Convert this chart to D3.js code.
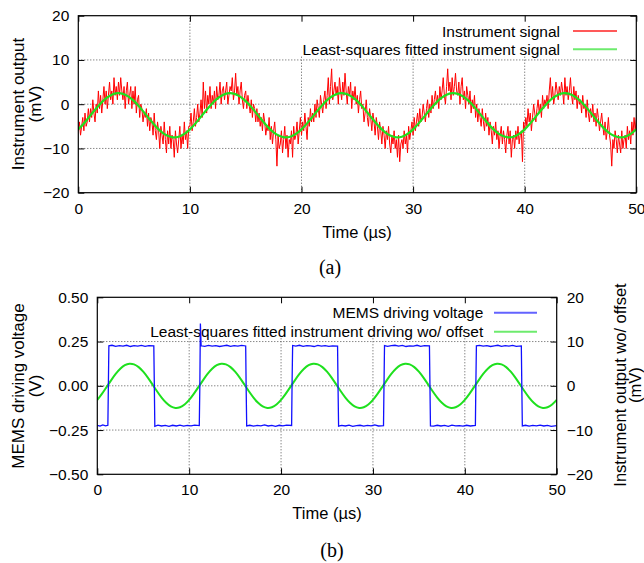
<!DOCTYPE html>
<html lang="en">
<head>
<meta charset="UTF-8" />
<title>Instrument signal</title>
<style>
  body { margin: 0; background: #fff; }
  svg { display: block; font-family: "Liberation Sans", Arial, sans-serif; }
</style>
</head>
<body>
<div id="chart"></div>
<script src="https://cdn.jsdelivr.net/npm/d3@7"></script>
<script>
// tick values
const xTicks = [0, 10, 20, 30, 40, 50];
const yTicksMv = [-20, -10, 0, 10, 20];
const yTicksVolt = [-0.5, -0.25, 0, 0.25, 0.5];

// (a) raw instrument signal, mV, one sample every 0.1 us
const signalStep = 0.1;
const instrumentSignal = [
  -6,-4,-7,-5,-3,-6,-2,-5,-4,-1, -4,-1,-3,1,-2,-4,0,-2,3,-1, 2,-2,1,4,0,3,-1,2,5,1, 3,0,6,2,4,1,5,2,6,3,
  1,4,-1,3,5,0,2,4,-1,3, 0,4,-2,1,2,-3,0,-1,-4,-2, -3,-1,-5,-2,-6,-3,-4,-7,-2,-6, -8,-4,-6,-10,-5,-7,-9,-4,-8,-11,
  -6,-9,-5,-10,-7,-8,-12,-6,-9,-11, -8,-5,-10,-7,-9,-4,-8,-6,-10,-5,
  -5,-2,-6,-4,-1,-5,-3,0,-4,-2, 1,-3,5,-1,3,-2,2,0,4,-1, 2,0,3,-1,4,1,2,5,0,3, 4,1,3,5,0,2,4,3,6,1,
  3,7,2,4,0,3,5,1,-1,2, 3,-1,2,0,-2,1,-3,0,-1,-4, -1,-4,-2,-5,-3,-6,-2,-4,-7,-5, -6,-3,-8,-5,-9,-6,-4,-8,-14,-7,
  -10,-9,-6,-11,-8,-5,-10,-7,-12,-8, -9,-6,-12,-5,-8,-7,-4,-9,-6,-3,
  -7,-4,-6,-2,-5,-8,-3,-5,-1,-4, -2,-4,0,-3,1,-1,-3,2,0,-2, 1,3,-1,2,6,0,4,8,1,3, 5,2,4,0,6,3,1,5,2,7,
  3,0,4,2,5,-1,3,1,4,0, 2,-2,1,3,-1,0,-4,-2,1,-3, -5,-1,-3,-6,-2,-4,-7,-3,-5,-8, -4,-6,-9,-5,-7,-10,-6,-8,-5,-9,
  -11,-7,-9,-6,-10,-8,-12,-7,-13,-9, -8,-10,-6,-9,-7,-11,-5,-8,-6,-4,
  -7,-3,-6,-4,-2,-5,-1,-4,-3,0, -2,-4,-1,1,-3,0,-2,2,-1,1, 3,0,2,-1,4,1,3,6,2,0, 4,8,3,5,1,6,2,4,7,3,
  2,5,0,4,6,1,3,-1,4,2, 0,3,-2,1,-1,2,-3,0,-4,-1, -3,-5,-1,-4,-6,-2,-5,-3,-7,-4, -6,-9,-5,-7,-4,-8,-6,-10,-7,-5,
  -9,-6,-8,-11,-7,-5,-9,-6,-12,-8, -7,-10,-6,-8,-5,-9,-7,-6,-13,-4,
  -6,-3,-5,-1,-4,-2,-6,-3,0,-2, -4,-1,1,-2,0,-3,2,-1,1,0, 2,-1,3,6,1,4,0,2,5,3, 1,4,2,5,3,0,6,2,4,1,
  3,6,2,0,4,1,3,-1,2,0, 1,-2,2,-1,0,-3,1,-2,-4,-1, -3,0,-4,-2,-5,-1,-3,-6,-4,-2, -5,-7,-4,-8,-6,-3,-7,-9,-14,-8,
  -10,-6,-8,-11,-7,-9,-11,-6,-10,-8, -7,-10,-5,-8,-6,-9,-4,-7,-3,-6,
  -3
];

// least-squares fits, one sample every 0.5 us
const fitStep = 0.5;
const fittedSignal = [
  -5.69,-4.34,-2.81,-1.26,0.18,1.35,2.15,2.49,2.34,1.72,0.69,-0.66,-2.19,-3.74,-5.18,-6.35,-7.15,-7.49,-7.34,-6.72,
  -5.69,-4.34,-2.81,-1.26,0.18,1.35,2.15,2.49,2.34,1.72,0.69,-0.66,-2.19,-3.74,-5.18,-6.35,-7.15,-7.49,-7.34,-6.72,
  -5.69,-4.34,-2.81,-1.26,0.18,1.35,2.15,2.49,2.34,1.72,0.69,-0.66,-2.19,-3.74,-5.18,-6.35,-7.15,-7.49,-7.34,-6.72,
  -5.69,-4.34,-2.81,-1.26,0.18,1.35,2.15,2.49,2.34,1.72,0.69,-0.66,-2.19,-3.74,-5.18,-6.35,-7.15,-7.49,-7.34,-6.72,
  -5.69,-4.34,-2.81,-1.26,0.18,1.35,2.15,2.49,2.34,1.72,0.69,-0.66,-2.19,-3.74,-5.18,-6.35,-7.15,-7.49,-7.34,-6.72,
  -5.69
];
const fittedNoOffset = [
  -3.19,-1.84,-0.31,1.24,2.68,3.85,4.65,4.99,4.84,4.22,3.19,1.84,0.31,-1.24,-2.68,-3.85,-4.65,-4.99,-4.84,-4.22,
  -3.19,-1.84,-0.31,1.24,2.68,3.85,4.65,4.99,4.84,4.22,3.19,1.84,0.31,-1.24,-2.68,-3.85,-4.65,-4.99,-4.84,-4.22,
  -3.19,-1.84,-0.31,1.24,2.68,3.85,4.65,4.99,4.84,4.22,3.19,1.84,0.31,-1.24,-2.68,-3.85,-4.65,-4.99,-4.84,-4.22,
  -3.19,-1.84,-0.31,1.24,2.68,3.85,4.65,4.99,4.84,4.22,3.19,1.84,0.31,-1.24,-2.68,-3.85,-4.65,-4.99,-4.84,-4.22,
  -3.19,-1.84,-0.31,1.24,2.68,3.85,4.65,4.99,4.84,4.22,3.19,1.84,0.31,-1.24,-2.68,-3.85,-4.65,-4.99,-4.84,-4.22,
  -3.19
];

// (b) MEMS driving voltage, V
const blueTime = [
  0, 0.3, 0.6, 0.9, 1.15, 1.2, 1.26,
  1.6, 2.0, 2.4, 2.8, 3.2, 3.6, 4.0, 4.4, 4.8, 5.2, 5.6, 6.15, 6.2, 6.26,
  6.6, 7.0, 7.4, 7.8, 8.2, 8.6, 9.0, 9.4, 9.8, 10.2, 10.6, 11.1, 11.16, 11.22, 11.3,
  11.7, 12.1, 12.5, 12.9, 13.3, 13.7, 14.1, 14.5, 14.9, 15.3, 15.7, 16.15, 16.2, 16.26,
  16.6, 17.0, 17.4, 17.8, 18.2, 18.6, 19.0, 19.4, 19.8, 20.2, 20.6, 21.15, 21.2, 21.26,
  21.6, 22.0, 22.4, 22.8, 23.2, 23.6, 24.0, 24.4, 24.8, 25.2, 25.6, 26.15, 26.2, 26.26,
  26.6, 27.0, 27.4, 27.8, 28.2, 28.6, 29.0, 29.4, 29.8, 30.2, 30.6, 31.15, 31.2, 31.26,
  31.6, 32.0, 32.4, 32.8, 33.2, 33.6, 34.0, 34.4, 34.8, 35.2, 35.6, 36.15, 36.2, 36.26,
  36.6, 37.0, 37.4, 37.8, 38.2, 38.6, 39.0, 39.4, 39.8, 40.2, 40.6, 41.15, 41.2, 41.26,
  41.6, 42.0, 42.4, 42.8, 43.2, 43.6, 44.0, 44.4, 44.8, 45.2, 45.6, 46.15, 46.2, 46.26,
  46.6, 47.0, 47.4, 47.8, 48.2, 48.6, 49.0, 49.4, 50.0
];
const blueVolt = [
  -0.224, -0.228, -0.221, -0.226, -0.223, -0.02, 0.226,
  0.229, 0.223, 0.227, 0.224, 0.229, 0.222, 0.227, 0.224, 0.228, 0.223, 0.227, 0.225, 0.03, -0.229,
  -0.222, -0.227, -0.224, -0.229, -0.223, -0.227, -0.222, -0.228, -0.224, -0.226, -0.222, -0.225, 0.0, 0.352, 0.226,
  0.223, 0.228, 0.224, 0.227, 0.222, 0.226, 0.229, 0.223, 0.227, 0.224, 0.228, 0.225, -0.01, -0.227,
  -0.223, -0.228, -0.224, -0.226, -0.221, -0.227, -0.224, -0.229, -0.223, -0.226, -0.222, -0.224, 0.02, 0.228,
  0.224, 0.229, 0.223, 0.227, 0.225, 0.222, 0.228, 0.224, 0.227, 0.223, 0.226, 0.224, 0.0, -0.228,
  -0.224, -0.227, -0.222, -0.229, -0.225, -0.223, -0.228, -0.224, -0.226, -0.221, -0.227, -0.225, -0.01, 0.227,
  0.223, 0.227, 0.229, 0.224, 0.228, 0.222, 0.226, 0.224, 0.229, 0.223, 0.227, 0.225, 0.02, -0.226,
  -0.228, -0.223, -0.227, -0.224, -0.229, -0.222, -0.226, -0.225, -0.228, -0.223, -0.227, -0.224, 0.0, 0.226,
  0.228, 0.224, 0.227, 0.222, 0.226, 0.229, 0.223, 0.227, 0.224, 0.228, 0.223, 0.225, 0.01, -0.227,
  -0.223, -0.228, -0.224, -0.226, -0.222, -0.227, -0.224, -0.229, -0.225
];

const width = 644, height = 563;
const red = "#ff0000", green = "#1ee01e", blue = "#1010ff";

const svg = d3.select("#chart").append("svg")
    .attr("width", width)
    .attr("height", height)
    .attr("viewBox", [0, 0, width, height]);

// scales
const xa = d3.scaleLinear([0, 50], [78.3, 636.3]);
const ya = d3.scaleLinear([-20, 20], [192.7, 15.7]);
const xb = d3.scaleLinear([0, 50], [97.3, 556.7]);
const yb = d3.scaleLinear([-0.5, 0.5], [474.3, 297.3]);
const yb2 = d3.scaleLinear([-20, 20], [474.3, 297.3]);

function grid(x, y, yt) {
  const g = svg.append("g")
      .attr("stroke", "#555")
      .attr("stroke-width", 1)
      .attr("stroke-dasharray", "1,2");
  g.selectAll(".gx").data(xTicks.slice(1, -1)).join("line").attr("class", "gx")
      .attr("x1", d => x(d)).attr("x2", d => x(d))
      .attr("y1", y.range()[0]).attr("y2", y.range()[1]);
  g.selectAll(".gy").data(yt.slice(1, -1)).join("line").attr("class", "gy")
      .attr("x1", x.range()[0]).attr("x2", x.range()[1])
      .attr("y1", d => y(d)).attr("y2", d => y(d));
}

function styleAxis(g) {
  g.select(".domain").remove();
  g.attr("font-family", null).attr("font-size", 15.5);
  g.selectAll(".tick text").attr("fill", "#000");
  g.selectAll(".tick line").attr("stroke", "#000");
}

function axes(x, y, yt, yFmt, y2, y2t) {
  const [x0, x1] = x.range(), [y0, y1] = y.range();
  svg.append("g").attr("transform", `translate(0,${y0})`)
      .call(d3.axisBottom(x).tickValues(xTicks).tickSize(-6).tickPadding(10).tickFormat(d3.format("d")))
      .call(styleAxis);
  svg.append("g").attr("transform", `translate(0,${y1})`)
      .call(d3.axisTop(x).tickValues(xTicks).tickSize(-6).tickFormat(""))
      .call(styleAxis);
  svg.append("g").attr("transform", `translate(${x0},0)`)
      .call(d3.axisLeft(y).tickValues(yt).tickSize(-6).tickPadding(9).tickFormat(yFmt))
      .call(styleAxis);
  if (y2) {
    svg.append("g").attr("transform", `translate(${x1},0)`)
        .call(d3.axisRight(y2).tickValues(y2t).tickSize(-6).tickPadding(10).tickFormat(d3.format("d")))
        .call(styleAxis);
  } else {
    svg.append("g").attr("transform", `translate(${x1},0)`)
        .call(d3.axisRight(y).tickValues(yt).tickSize(-6).tickFormat(""))
        .call(styleAxis);
  }
  svg.append("rect")
      .attr("x", x0).attr("y", y1)
      .attr("width", x1 - x0).attr("height", y0 - y1)
      .attr("fill", "none").attr("stroke", "#000").attr("stroke-width", 1.2);
}

function clip(id, x, y) {
  svg.append("clipPath").attr("id", id).append("rect")
      .attr("x", x.range()[0]).attr("y", y.range()[1])
      .attr("width", x.range()[1] - x.range()[0])
      .attr("height", y.range()[0] - y.range()[1]);
}

function legend(box, rows, textRight, lineX0, lineX1) {
  svg.append("rect")
      .attr("x", box[0]).attr("y", box[1]).attr("width", box[2]).attr("height", box[3])
      .attr("fill", "#fff");
  rows.forEach(r => {
    svg.append("text")
        .attr("x", textRight).attr("y", r.y)
        .attr("text-anchor", "end").attr("dominant-baseline", "central")
        .attr("font-size", 15.5).text(r.label);
    svg.append("line")
        .attr("x1", lineX0).attr("x2", lineX1).attr("y1", r.y).attr("y2", r.y)
        .attr("stroke", r.color).attr("stroke-width", 2).attr("stroke-opacity", 0.65);
  });
}

function vlabel(text, cx, cy, size) {
  svg.append("text")
      .attr("transform", `translate(${cx},${cy}) rotate(-90)`)
      .attr("text-anchor", "middle").attr("dominant-baseline", "central")
      .attr("font-size", size || 17).text(text);
}

// ---------- panel (a)
grid(xa, ya, yTicksMv);
legend([297, 17, 338, 39], [
  {label: "Instrument signal", y: 31, color: red},
  {label: "Least-squares fitted instrument signal", y: 49.3, color: green}
], 560, 573, 617);
clip("clipA", xa, ya);

const gA = svg.append("g").attr("clip-path", "url(#clipA)");
gA.append("path")
    .datum(instrumentSignal)
    .attr("fill", "none").attr("stroke", red).attr("stroke-width", 1)
    .attr("d", d3.line().x((d, i) => xa(i * signalStep)).y(d => ya(d)));
gA.append("path")
    .datum(fittedSignal)
    .attr("fill", "none").attr("stroke", green).attr("stroke-width", 2.2)
    .attr("d", d3.line().curve(d3.curveNatural).x((d, i) => xa(i * fitStep)).y(d => ya(d)));

axes(xa, ya, yTicksMv, d3.format("d"));

svg.append("text").attr("x", 357).attr("y", 238).attr("text-anchor", "middle")
    .attr("font-size", 16.5).text("Time (\u00b5s)");
vlabel("Instrument output", 18, 104);
vlabel("(mV)", 35, 104);
svg.append("text").attr("x", 330).attr("y", 274).attr("text-anchor", "middle")
    .attr("font-family", "'Liberation Serif', 'Times New Roman', serif")
    .attr("font-size", 20).text("(a)");

// ---------- panel (b)
grid(xb, yb, yTicksVolt);
legend([140, 298, 414, 40], [
  {label: "MEMS driving voltage", y: 312.7, color: blue},
  {label: "Least-squares fitted instrument driving wo/ offset", y: 331.7, color: green}
], 483.3, 494, 537);
clip("clipB", xb, yb);

const gB = svg.append("g").attr("clip-path", "url(#clipB)");
gB.append("path")
    .datum(fittedNoOffset)
    .attr("fill", "none").attr("stroke", green).attr("stroke-width", 2)
    .attr("d", d3.line().curve(d3.curveNatural).x((d, i) => xb(i * fitStep)).y(d => yb2(d)));
gB.append("path")
    .datum(blueTime.map((t, i) => [t, blueVolt[i]]))
    .attr("fill", "none").attr("stroke", blue).attr("stroke-width", 1.3)
    .attr("d", d3.line().x(d => xb(d[0])).y(d => yb(d[1])));

axes(xb, yb, yTicksVolt, d3.format(".2f"), yb2, yTicksMv);

svg.append("text").attr("x", 327).attr("y", 519).attr("text-anchor", "middle")
    .attr("font-size", 16.5).text("Time (\u00b5s)");
vlabel("MEMS driving voltage", 18, 386);
vlabel("(V)", 35, 386);
vlabel("Instrument output wo/ offset", 620, 385, 16.5);
vlabel("(mV)", 634.5, 385, 16.5);
svg.append("text").attr("x", 332).attr("y", 557).attr("text-anchor", "middle")
    .attr("font-family", "'Liberation Serif', 'Times New Roman', serif")
    .attr("font-size", 20).text("(b)");
</script>
</body>
</html>
